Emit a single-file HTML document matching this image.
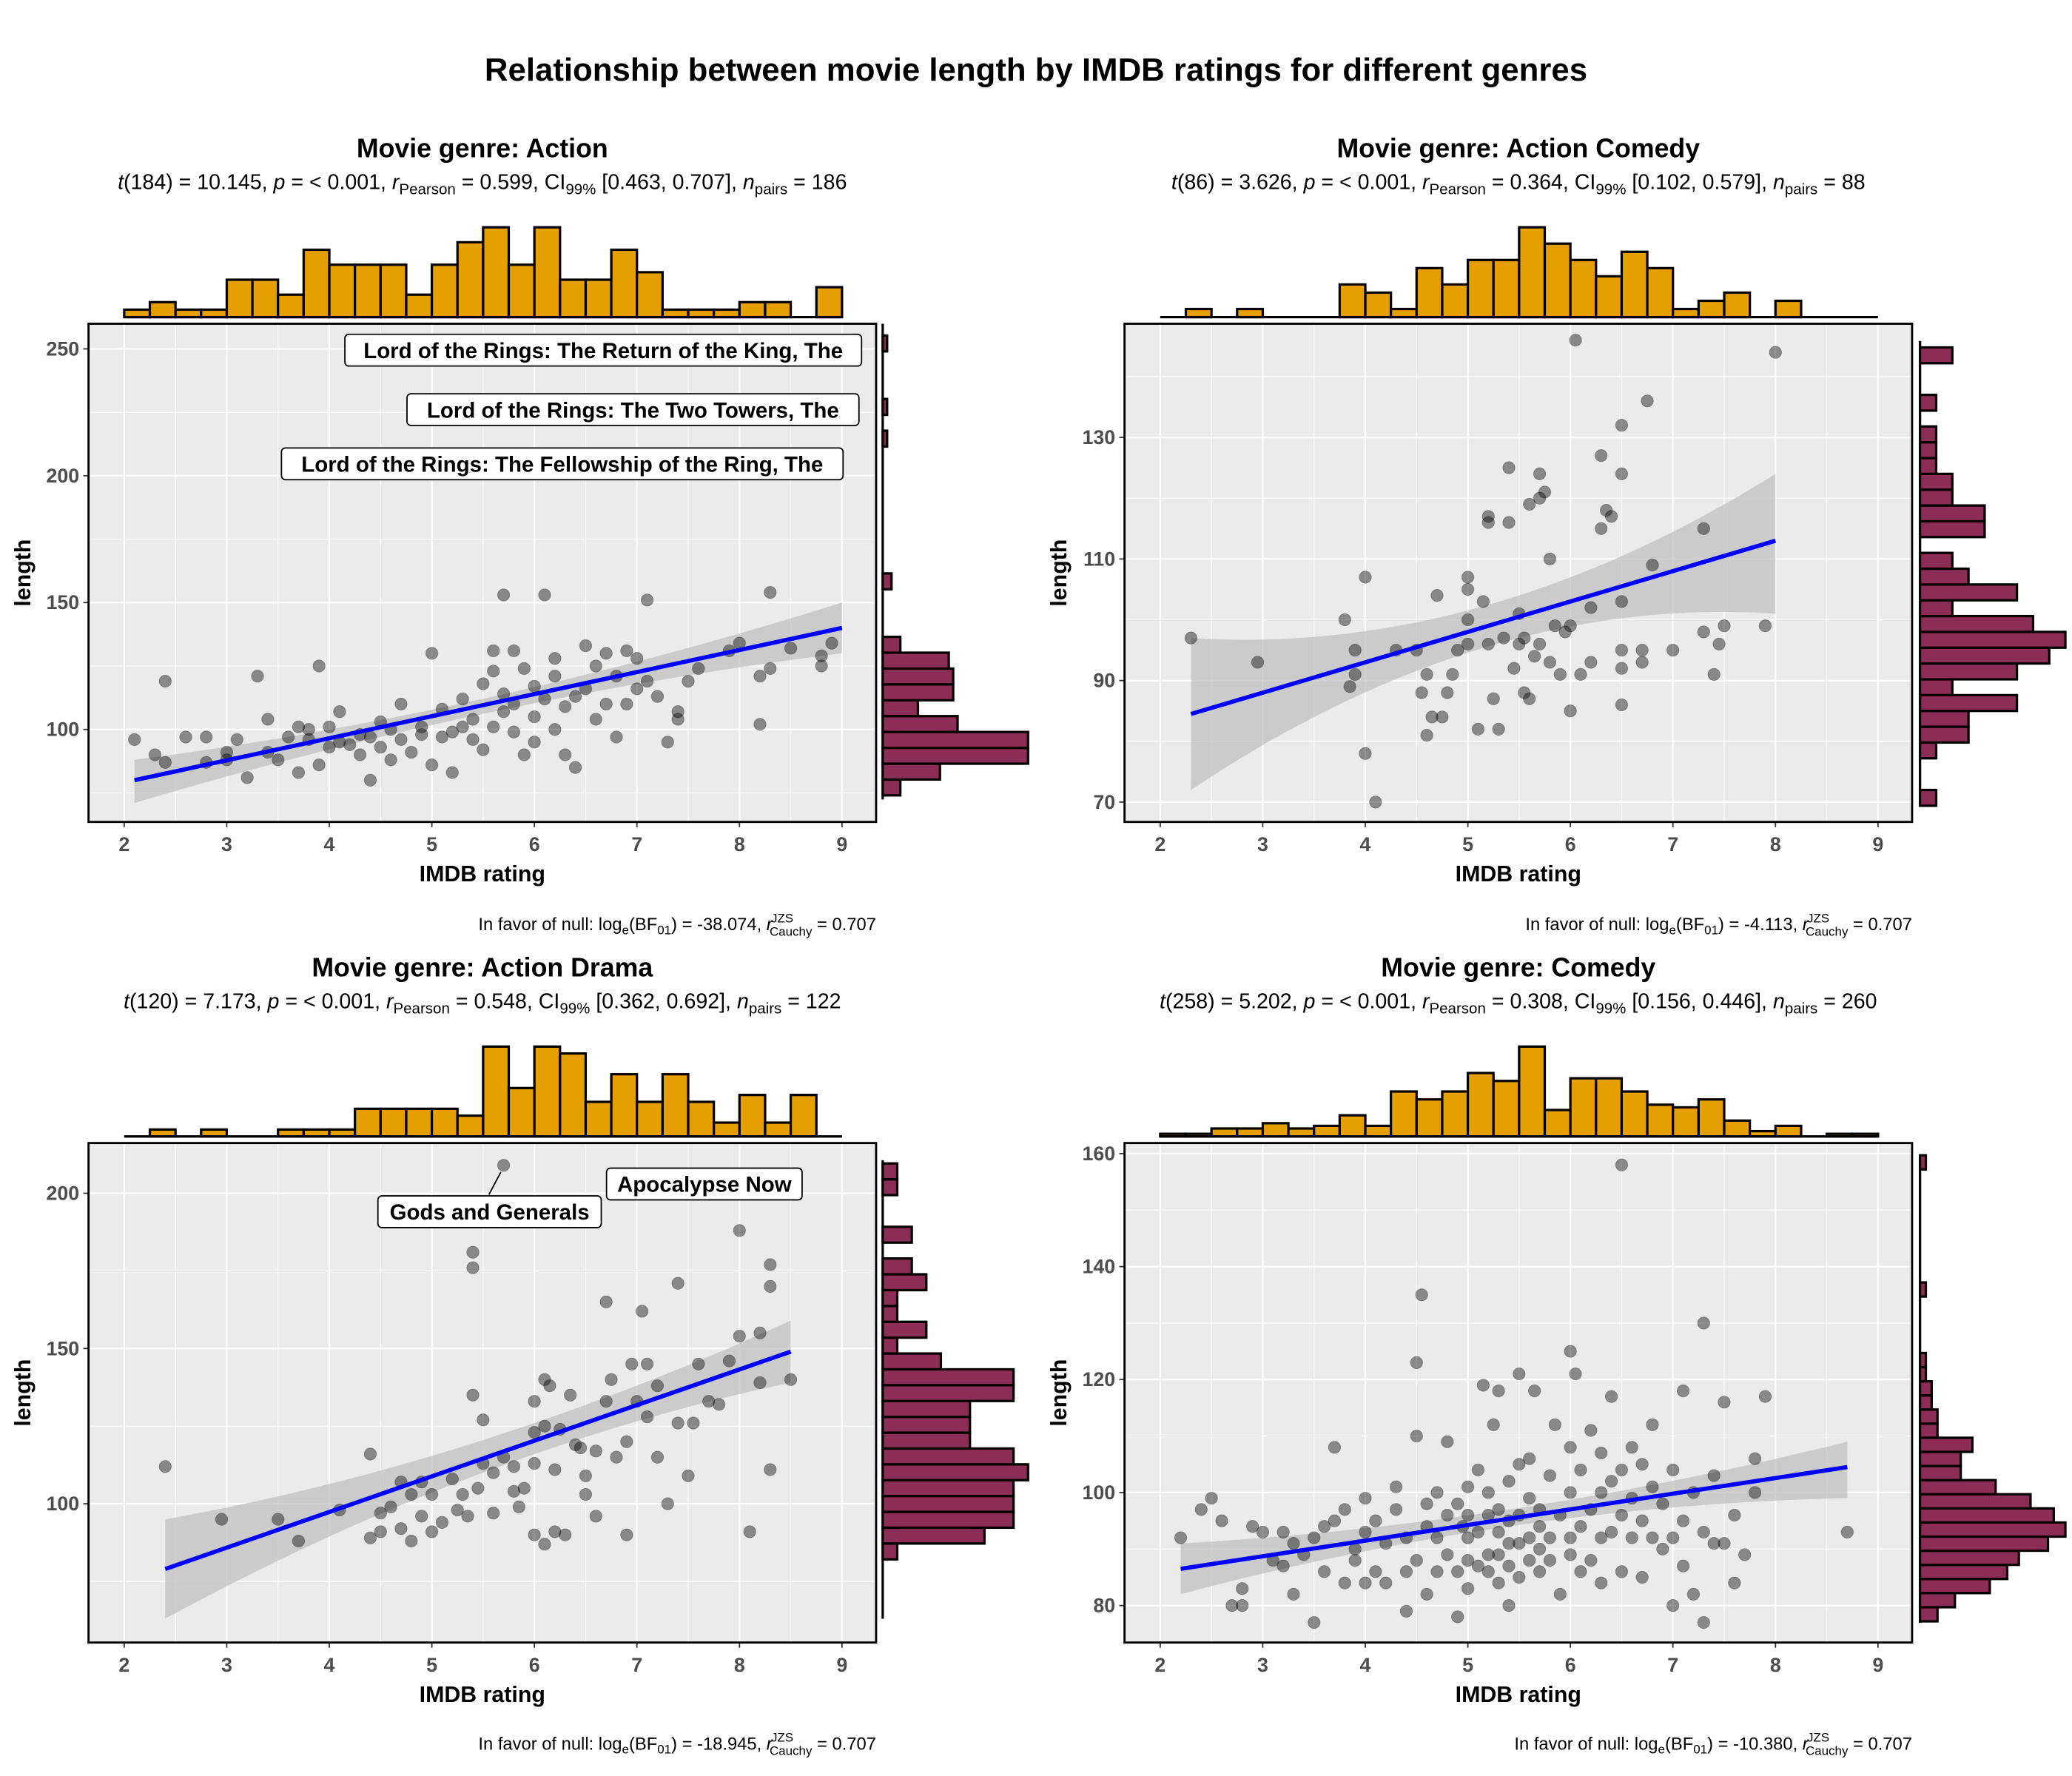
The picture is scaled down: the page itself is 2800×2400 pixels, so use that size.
<!DOCTYPE html>
<html><head><meta charset="utf-8"><style>
html,body{margin:0;padding:0;background:#fff}
svg{display:block}
text{font-family:"Liberation Sans",Arial,sans-serif}
</style></head><body>
<svg id="chart" xmlns="http://www.w3.org/2000/svg" width="2800" height="2400" viewBox="0 0 1568 1344">
<rect width="1568" height="1344" fill="#fff"/>
<text x="784" y="61" text-anchor="middle" font-size="24.5" font-weight="bold">Relationship between movie length by IMDB ratings for different genres</text>
</svg>
<script>
// ---------- data ----------
const xTicks=[2,3,4,5,6,7,8,9];
const p1YTicks=[100,150,200,250];
const p2YTicks=[70,90,110,130];
const p3YTicks=[100,150,200];
const p4YTicks=[80,100,120,140,160];
const panelTitles=["Movie genre: Action","Movie genre: Action Comedy","Movie genre: Action Drama","Movie genre: Comedy"];
const statT=["t(184) = 10.145","t(86) = 3.626","t(120) = 7.173","t(258) = 5.202"];
const statR=["0.599","0.364","0.548","0.308"];
const statCI=["[0.463, 0.707]","[0.102, 0.579]","[0.362, 0.692]","[0.156, 0.446]"];
const statN=["186","88","122","260"];
const statBF=["-38.074","-4.113","-18.945","-10.380"];

const p1Points=[[2.1,96],[2.3,90],[2.4,119],[2.4,87],[2.6,97],[2.8,97],[2.8,87],[3.0,91],[3.0,88],[3.1,96],[3.2,81],[3.3,121],[3.4,104],[3.4,91],[3.5,88],[3.6,97],[3.7,101],[3.7,83],[3.8,96],[3.8,100],[3.9,86],[3.9,125],[4.0,93],[4.0,101],[4.1,95],[4.1,107],[4.2,94],[4.3,98],[4.3,90],[4.4,97],[4.4,80],[4.5,103],[4.5,93],[4.6,100],[4.6,88],[4.7,96],[4.7,110],[4.8,91],[4.9,98],[4.9,101],[5.0,86],[5.0,130],[5.1,97],[5.1,108],[5.2,99],[5.2,83],[5.3,101],[5.3,112],[5.4,96],[5.4,104],[5.5,92],[5.5,118],[5.6,101],[5.6,123],[5.6,131],[5.7,107],[5.7,114],[5.7,153],[5.8,110],[5.8,99],[5.8,131],[5.9,124],[5.9,90],[6.0,117],[6.0,95],[6.0,105],[6.1,112],[6.1,153],[6.2,100],[6.2,128],[6.2,121],[6.3,90],[6.3,109],[6.4,113],[6.4,85],[6.5,116],[6.5,133],[6.6,104],[6.6,125],[6.7,110],[6.7,130],[6.8,121],[6.8,97],[6.9,131],[6.9,110],[7.0,128],[7.0,116],[7.1,119],[7.1,151],[7.2,113],[7.3,95],[7.4,107],[7.4,104],[7.5,119],[7.6,124],[7.9,131],[8.0,134],[8.2,102],[8.2,121],[8.3,154],[8.3,124],[8.5,132],[8.8,125],[8.8,129],[8.9,134]];
const p2Points=[[2.3,97],[2.95,93],[3.8,100],[3.85,89],[3.9,91],[3.9,95],[4.0,107],[4.0,78],[4.1,70],[4.3,95],[4.5,95],[4.55,88],[4.6,81],[4.6,91],[4.65,84],[4.7,104],[4.75,84],[4.8,88],[4.85,91],[4.9,95],[5.0,96],[5.0,100],[5.0,105],[5.0,107],[5.1,82],[5.15,103],[5.2,96],[5.2,116],[5.2,117],[5.25,87],[5.3,82],[5.35,97],[5.4,116],[5.4,125],[5.45,92],[5.5,96],[5.5,101],[5.55,88],[5.55,97],[5.6,87],[5.6,119],[5.65,94],[5.7,96],[5.7,120],[5.7,124],[5.75,121],[5.8,93],[5.8,110],[5.85,99],[5.9,91],[5.95,98],[6.0,85],[6.0,99],[6.05,146],[6.1,91],[6.2,93],[6.2,102],[6.3,115],[6.3,127],[6.35,118],[6.4,117],[6.5,86],[6.5,92],[6.5,95],[6.5,103],[6.5,124],[6.5,132],[6.7,95],[6.7,93],[6.75,136],[6.8,109],[7.0,95],[7.3,98],[7.3,115],[7.4,91],[7.45,96],[7.5,99],[7.9,99],[8.0,144]];
const p3Points=[[2.4,112],[2.95,95],[3.5,95],[3.7,88],[4.1,98],[4.4,116],[4.4,89],[4.5,91],[4.5,97],[4.6,99],[4.7,92],[4.7,107],[4.8,88],[4.8,103],[4.9,107],[4.9,96],[5.0,91],[5.0,103],[5.1,94],[5.2,108],[5.25,98],[5.3,103],[5.35,96],[5.4,135],[5.4,176],[5.4,181],[5.45,105],[5.5,113],[5.5,127],[5.6,110],[5.6,97],[5.7,209],[5.7,115],[5.8,104],[5.8,112],[5.85,99],[5.9,105],[6.0,123],[6.0,133],[6.0,113],[6.0,90],[6.1,87],[6.1,125],[6.1,140],[6.15,138],[6.2,91],[6.2,111],[6.25,124],[6.3,90],[6.35,135],[6.4,119],[6.45,118],[6.5,103],[6.5,109],[6.6,96],[6.6,117],[6.7,133],[6.7,165],[6.75,140],[6.8,115],[6.9,90],[6.9,120],[6.95,145],[7.0,133],[7.05,162],[7.1,128],[7.1,145],[7.2,115],[7.2,138],[7.3,100],[7.4,126],[7.4,171],[7.5,109],[7.55,126],[7.6,145],[7.7,133],[7.8,132],[7.9,146],[8.0,154],[8.0,188],[8.1,91],[8.2,155],[8.2,139],[8.3,111],[8.3,170],[8.3,177],[8.5,140]];
const p4Points=[[2.2,92],[2.4,97],[2.5,99],[2.6,95],[2.7,80],[2.8,80],[2.8,83],[2.9,94],[3.0,93],[3.1,88],[3.2,87],[3.2,93],[3.3,82],[3.3,91],[3.4,89],[3.5,77],[3.5,92],[3.6,86],[3.6,94],[3.7,108],[3.7,95],[3.8,84],[3.8,97],[3.9,88],[3.9,90],[4.0,84],[4.0,93],[4.0,99],[4.1,86],[4.1,95],[4.2,84],[4.2,91],[4.3,97],[4.3,101],[4.4,79],[4.4,86],[4.4,92],[4.5,110],[4.5,123],[4.5,88],[4.55,135],[4.6,94],[4.6,98],[4.6,82],[4.7,86],[4.7,100],[4.7,92],[4.8,89],[4.8,96],[4.8,109],[4.9,78],[4.9,86],[4.9,98],[4.95,94],[5.0,83],[5.0,88],[5.0,92],[5.0,96],[5.0,101],[5.1,87],[5.1,93],[5.1,104],[5.15,119],[5.2,86],[5.2,89],[5.2,96],[5.2,100],[5.25,112],[5.3,84],[5.3,89],[5.3,93],[5.3,97],[5.3,118],[5.4,80],[5.4,87],[5.4,91],[5.4,95],[5.4,102],[5.5,85],[5.5,91],[5.5,96],[5.5,105],[5.5,121],[5.6,88],[5.6,92],[5.6,99],[5.6,106],[5.65,118],[5.7,86],[5.7,90],[5.7,94],[5.7,97],[5.8,88],[5.8,92],[5.8,103],[5.85,112],[5.9,82],[5.9,96],[6.0,89],[6.0,92],[6.0,100],[6.0,108],[6.0,125],[6.05,121],[6.1,86],[6.1,94],[6.1,104],[6.2,88],[6.2,97],[6.2,111],[6.3,84],[6.3,92],[6.3,100],[6.3,107],[6.4,93],[6.4,102],[6.4,117],[6.5,86],[6.5,96],[6.5,104],[6.5,158],[6.6,92],[6.6,99],[6.6,108],[6.7,85],[6.7,95],[6.7,105],[6.8,92],[6.8,101],[6.8,112],[6.9,90],[6.9,98],[7.0,80],[7.0,92],[7.0,104],[7.1,87],[7.1,95],[7.1,118],[7.2,82],[7.2,100],[7.3,77],[7.3,93],[7.3,130],[7.4,91],[7.4,103],[7.5,91],[7.5,116],[7.6,84],[7.6,96],[7.7,89],[7.8,100],[7.8,106],[7.9,117],[8.7,93]];

// top marginal histogram counts (bins of 0.25 rating from 2.0)
const p1TopCounts=[1,2,1,1,5,5,3,9,7,7,7,3,7,10,12,7,12,5,5,9,6,1,1,1,2,2,0,4];
const p2TopCounts=[0,1,0,1,0,0,0,4,3,1,6,4,7,7,11,9,7,5,8,6,1,2,3,0,2,0,0,0];
const p3TopCounts=[0,1,0,1,0,0,1,1,1,4,4,4,4,3,13,7,13,12,5,9,5,9,5,2,6,2,6,0];
const p4TopCounts=[1,1,3,3,5,3,4,8,4,17,14,17,24,21,34,10,22,22,17,12,11,14,6,2,4,0,1,1];
// right marginal histogram counts (length bins)
const p1RightCounts=[4,13,33,33,17,8,16,16,15,4,0,0,0,2,0,0,0,0,0,0,0,0,1,0,1,0,0,0,1];
const p2RightCounts=[1,0,0,1,3,3,6,2,6,8,9,7,2,6,3,2,0,4,4,2,2,1,1,1,0,1,0,0,2];
const p3RightCounts=[1,7,9,9,9,10,9,6,6,6,9,9,4,1,3,1,1,3,2,0,2,0,0,1,1];
const p4RightCounts=[3,6,12,15,17,22,25,23,19,13,7,7,9,3,3,2,2,1,1,0,0,0,0,1,0,0,0,0,0,0,0,0,1];
// regression fit [x, fit, lower, upper]
const p1Fit=[[2.1,80,71,88],[5.6,110,107,113],[9.0,140,130,150]];
const p2Fit=[[2.3,84.5,72,97],[5.5,100.5,97,104],[8.0,113,101,124]];
const p3Fit=[[2.4,79,63,95],[6.0,121,116,126],[8.5,149,139,159]];
const p4Fit=[[2.2,86.5,82,91],[5.4,95.5,94,97],[8.7,104.5,99,109]];

// ---------- geometry ----------
const panels=[
 {id:"action",x0:67,y0:245,x1:663,y1:622,xa:94,yv:100,ypx:552,yk:1.92,ymin:63.5,ymax:260,pts:p1Points,yt:p1YTicks,top:p1TopCounts,topBase:240,right:p1RightCounts,rBase:668,rL0:74,rW:6.25,rTop:245,rBot:605,fit:p1Fit,ty:112,ax:365,capY:700},
 {id:"action-comedy",x0:851,y0:245,x1:1447,y1:622,xa:878,yv:70,ypx:607,yk:4.6,ymin:66.7,ymax:148.7,pts:p2Points,yt:p2YTicks,top:p2TopCounts,topBase:240,right:p2RightCounts,rBase:1453,rL0:69.4,rW:2.6,rTop:258,rBot:610,fit:p2Fit,ty:112,ax:1149,capY:700},
 {id:"action-drama",x0:67,y0:865,x1:663,y1:1243,xa:94,yv:100,ypx:1138,yk:2.35,ymin:55.3,ymax:216,pts:p3Points,yt:p3YTicks,top:p3TopCounts,topBase:860,right:p3RightCounts,rBase:668,rL0:82.1,rW:5.1,rTop:878,rBot:1225,fit:p3Fit,ty:732,ax:365,capY:1320},
 {id:"comedy",x0:851,y0:865,x1:1447,y1:1243,xa:878,yv:80,ypx:1215,yk:4.275,ymin:73.4,ymax:161.9,pts:p4Points,yt:p4YTicks,top:p4TopCounts,topBase:860,right:p4RightCounts,rBase:1453,rL0:77.2,rW:2.5,rTop:878,rBot:1228,fit:p4Fit,ty:732,ax:1149,capY:1320}
];
const NS="http://www.w3.org/2000/svg";
const svg=document.getElementById("chart");
function mk(tag,attrs,parent){const e=document.createElementNS(NS,tag);for(const k in attrs)e.setAttribute(k,attrs[k]);(parent||svg).appendChild(e);return e;}

panels.forEach((P,pi)=>{
 const g=mk("g",{});
 
 
 const xs=v=>P.xa+(v-2)*77.6;
 const ys=v=>P.ypx-(v-P.yv)*P.yk;
 const bg=mk("rect",{x:P.x0,y:P.y0,width:P.x1-P.x0,height:P.y1-P.y0,fill:"#ebebeb"},g);
 
 
 for(let v=1.5;v<=9.5;v+=1){const x=xs(v);if(x>P.x0&&x<P.x1)mk("line",{x1:x,x2:x,y1:P.y0,y2:P.y1,stroke:"#fff","stroke-width":0.6},g);}
 const step=P.yt[1]-P.yt[0];
 for(let v=P.yt[0]-step*1.5;v<=P.ymax;v+=step){const y=ys(v);if(y>P.y0&&y<P.y1)mk("line",{x1:P.x0,x2:P.x1,y1:y,y2:y,stroke:"#fff","stroke-width":0.6},g);}
 xTicks.forEach(v=>{const x=xs(v);mk("line",{x1:x,x2:x,y1:P.y0,y2:P.y1,stroke:"#fff","stroke-width":1.2},g);
  mk("line",{x1:x,x2:x,y1:P.y1,y2:P.y1+4,stroke:"#333","stroke-width":1},g);
  const t=mk("text",{x:x,y:P.y1+22,"text-anchor":"middle","font-size":15,"font-weight":"bold",fill:"#4d4d4d"},g);t.textContent=v;
  
  });
 P.yt.forEach(v=>{const y=ys(v);mk("line",{x1:P.x0,x2:P.x1,y1:y,y2:y,stroke:"#fff","stroke-width":1.2},g);
  mk("line",{x1:P.x0-4,x2:P.x0,y1:y,y2:y,stroke:"#333","stroke-width":1},g);
  const t=mk("text",{x:P.x0-7,y:y+5,"text-anchor":"end","font-size":15,"font-weight":"bold",fill:"#4d4d4d"},g);t.textContent=v;
  
  });
 const F=P.fit;
 function interp(x,idx){
  const [a,b,c]=F;const x0=a[0],x1=b[0],x2=c[0];
  return a[idx]*(x-x1)*(x-x2)/((x0-x1)*(x0-x2))+b[idx]*(x-x0)*(x-x2)/((x1-x0)*(x1-x2))+c[idx]*(x-x0)*(x-x1)/((x2-x0)*(x2-x1));}
 let up=[],lo=[];
 for(let i=0;i<=40;i++){const x=F[0][0]+(F[2][0]-F[0][0])*i/40;up.push(xs(x)+","+ys(interp(x,3)));lo.unshift(xs(x)+","+ys(interp(x,2)));}
 const band=mk("polygon",{points:up.concat(lo).join(" "),fill:"#bdbdbd","fill-opacity":0.7},g);
 
 
 P.pts.forEach(p=>{const c=mk("circle",{cx:xs(p[0]),cy:ys(p[1]),r:4.6,fill:"#000","fill-opacity":0.42,stroke:"#000","stroke-opacity":0.3,"stroke-width":0.5},g);
  
  });
 const ln=mk("line",{x1:xs(F[0][0]),y1:ys(F[0][1]),x2:xs(F[2][0]),y2:ys(F[2][1]),stroke:"#0000ff","stroke-width":3.2},g);
 
 
 mk("rect",{x:P.x0,y:P.y0,width:P.x1-P.x0,height:P.y1-P.y0,fill:"none",stroke:"#000","stroke-width":1.6},g);
 const tmax=Math.max(...P.top);
 P.top.forEach((c,i)=>{if(!c)return;const xl=xs(2+0.25*i),xr=xs(2+0.25*(i+1));const h=c/tmax*68;
  const r=mk("rect",{x:xl,y:P.topBase-h,width:xr-xl,height:h,fill:"#E69F00",stroke:"#000","stroke-width":1.8},g);
  
  });
 mk("line",{x1:xs(2),x2:xs(9),y1:P.topBase,y2:P.topBase,stroke:"#000","stroke-width":1.8},g);
 const rmax=Math.max(...P.right);
 mk("line",{x1:P.rBase,x2:P.rBase,y1:P.rTop,y2:P.rBot,stroke:"#000","stroke-width":1.8},g);
 P.right.forEach((c,k)=>{if(!c)return;const yb=ys(P.rL0+k*P.rW),yt=ys(P.rL0+(k+1)*P.rW);const w=c/rmax*110;
  const r=mk("rect",{x:P.rBase,y:yt,width:w,height:yb-yt,fill:"#8B2D55",stroke:"#000","stroke-width":1.8},g);
  
  });
 const xt=mk("text",{x:(P.x0+P.x1)/2,y:P.y1+45,"text-anchor":"middle","font-size":17,"font-weight":"bold"},g);xt.textContent="IMDB rating";
 
 
 const cy=(P.y0+P.y1)/2;
 const yt=mk("text",{x:P.x0-44,y:cy,"text-anchor":"middle","font-size":17,"font-weight":"bold",transform:`rotate(-90 ${P.x0-44} ${cy})`},g);yt.textContent="length";
 
 
 const tt=mk("text",{x:P.ax,y:P.ty+7,"text-anchor":"middle","font-size":20,"font-weight":"bold"},g);tt.textContent=panelTitles[pi];
 
 
 const st=mk("text",{x:P.ax,y:P.ty+31,"text-anchor":"middle","font-size":16},g);
 
 
 st.innerHTML=`<tspan font-style="italic">t</tspan>${statT[pi].slice(1)}, <tspan font-style="italic">p</tspan> = &lt; 0.001, <tspan font-style="italic">r</tspan><tspan font-size="11.5" dy="4">Pearson</tspan><tspan dy="-4"> = ${statR[pi]}, CI</tspan><tspan font-size="11.5" dy="4">99%</tspan><tspan dy="-4"> ${statCI[pi]}, </tspan><tspan font-style="italic">n</tspan><tspan font-size="11.5" dy="4">pairs</tspan><tspan dy="-4"> = ${statN[pi]}</tspan>`;
 const cap=mk("text",{x:P.x1,y:P.capY+4,"text-anchor":"end","font-size":13.3},g);
 
 
 cap.innerHTML=`In favor of null: log<tspan font-size="9.5" dy="3">e</tspan><tspan dy="-3">(BF</tspan><tspan font-size="9.5" dy="3">01</tspan><tspan dy="-3">) = ${statBF[pi]}, </tspan><tspan font-style="italic">r</tspan><tspan font-size="9.5" dx="-1" dy="-6">JZS</tspan><tspan font-size="9.5" dx="-18" dy="10">Cauchy</tspan><tspan dy="-4"> = 0.707</tspan>`;
});

function label(x,y,w,text,name){
 const g=mk("g",{});
 
 
 mk("rect",{x:x,y:y,width:w,height:24,rx:3,fill:"#fff",stroke:"#000","stroke-width":1},g);
 const t=mk("text",{x:x+w/2,y:y+18,"text-anchor":"middle","font-size":16.5,"font-weight":"bold"},g);t.textContent=text;
}
label(261,253,391,"Lord of the Rings: The Return of the King, The","label-return-of-the-king");
label(308,298,342,"Lord of the Rings: The Two Towers, The","label-two-towers");
label(213,339,425,"Lord of the Rings: The Fellowship of the Ring, The","label-fellowship");
mk("line",{x1:370,y1:904,x2:379,y2:887,stroke:"#000","stroke-width":1});
label(286,905,169,"Gods and Generals","label-gods-and-generals");
label(459,884,148,"Apocalypse Now","label-apocalypse-now");
</script>
</body></html>
